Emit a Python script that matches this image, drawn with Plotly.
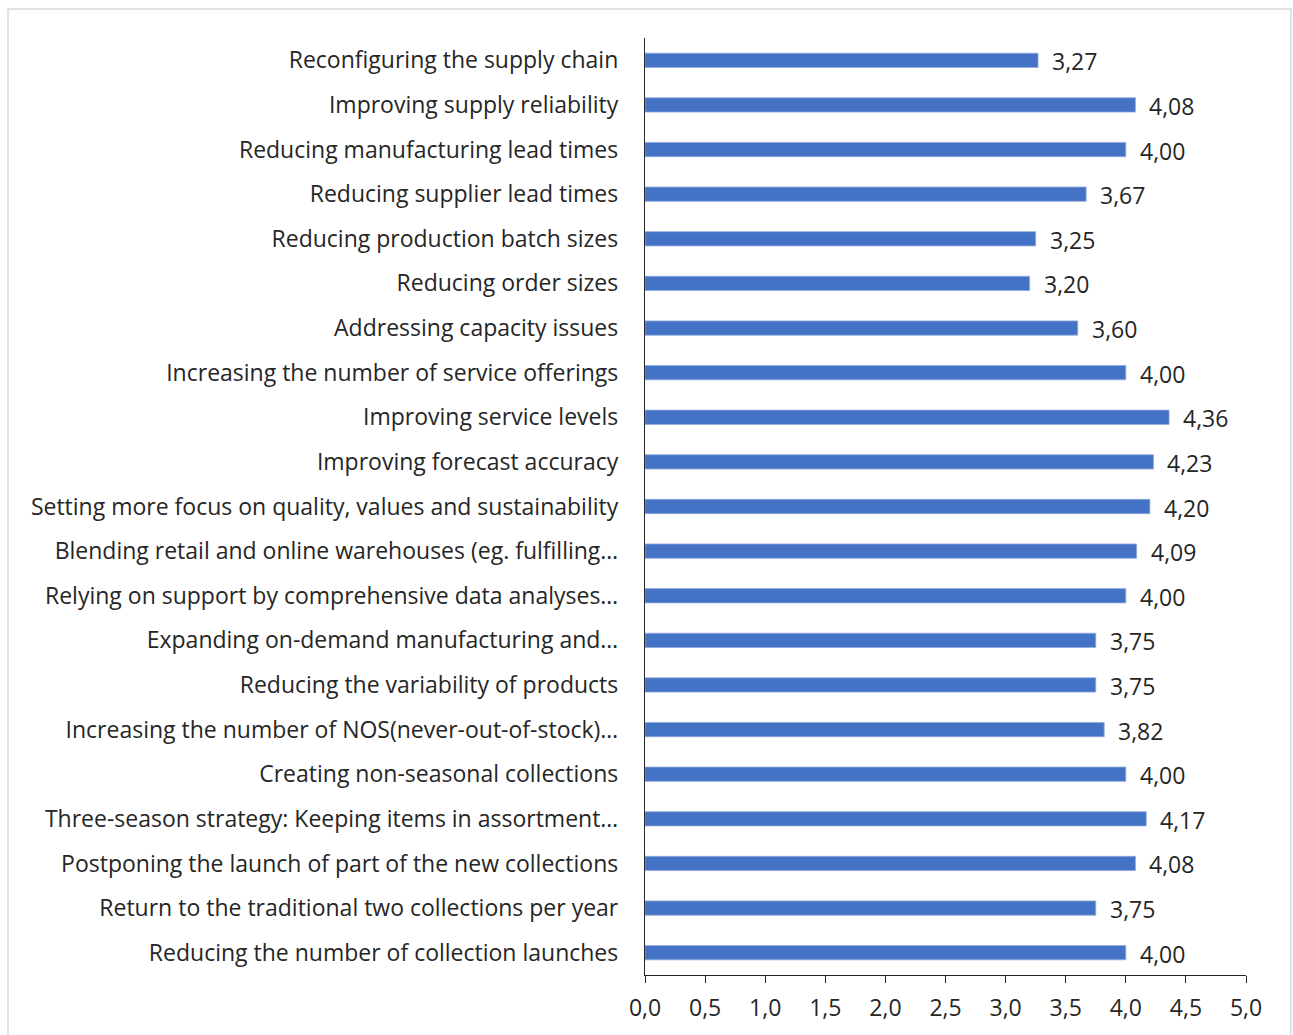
import plotly.graph_objects as go

# Measures, listed top to bottom as they appear on the chart
categories = [
    "Reconfiguring the supply chain",
    "Improving supply reliability",
    "Reducing manufacturing lead times",
    "Reducing supplier lead times",
    "Reducing production batch sizes",
    "Reducing order sizes",
    "Addressing capacity issues",
    "Increasing the number of service offerings",
    "Improving service levels",
    "Improving forecast accuracy",
    "Setting more focus on quality, values and sustainability",
    "Blending retail and online warehouses (eg. fulfilling…",
    "Relying on support by comprehensive data analyses…",
    "Expanding on-demand manufacturing and…",
    "Reducing the variability of products",
    "Increasing the number of NOS(never-out-of-stock)…",
    "Creating non-seasonal collections",
    "Three-season strategy: Keeping items in assortment…",
    "Postponing the launch of part of the new collections",
    "Return to the traditional two collections per year",
    "Reducing the number of collection launches",
]
scores = [3.27, 4.08, 4.00, 3.67, 3.25, 3.20, 3.60, 4.00, 4.36, 4.23, 4.20,
          4.09, 4.00, 3.75, 3.75, 3.82, 4.00, 4.17, 4.08, 3.75, 4.00]
tick_values = [0, 0.5, 1, 1.5, 2, 2.5, 3, 3.5, 4, 4.5, 5]

FONT = "Open Sans"
W, H = 1293, 1035
ML, MR, MT, MB = 645, 47, 38, 60
plot_w = W - ML - MR
plot_h = H - MT - MB

fig = go.Figure(go.Bar(
    x=scores,
    y=categories,
    orientation="h",
    width=0.32,
    marker=dict(color="#4472C4", line=dict(color="#8FAADC", width=0.8)),
    hoverinfo="x+y",
))

# value labels to the right of each bar
for cat, val in zip(categories, scores):
    fig.add_annotation(
        x=val, y=cat, text=f"{val:.2f}".replace(".", ","),
        showarrow=False, xanchor="left", yanchor="middle",
        xshift=12, yshift=-1,
        font=dict(family=FONT, size=23, color="#262626"),
    )

# thin outer frame around the whole chart
x0 = (8 - ML) / plot_w
x1 = (1291 - ML) / plot_w
y1 = (H - MB - 9) / plot_h
y0 = (H - MB - 1045) / plot_h
fig.add_shape(type="rect", xref="paper", yref="paper",
              x0=x0, x1=x1, y0=y0, y1=y1,
              line=dict(color="#D9D9D9", width=1.5), layer="below")

fig.update_layout(
    width=W, height=H,
    margin=dict(l=ML, r=MR, t=MT, b=MB),
    paper_bgcolor="white", plot_bgcolor="white",
    separators=",.",
    showlegend=False,
    font=dict(family=FONT, size=23, color="#262626"),
    xaxis=dict(
        range=[0, 5],
        tickvals=tick_values,
        tickformat=".1f",
        showgrid=False, zeroline=False,
        showline=True, linecolor="#262626", linewidth=1.3,
        ticks="outside", ticklen=7, tickwidth=1.3, tickcolor="#262626",
        tickfont=dict(family=FONT, size=23, color="#262626"),
        ticklabelstandoff=5,
        fixedrange=True,
    ),
    yaxis=dict(
        categoryorder="array", categoryarray=categories,
        autorange="reversed",
        showgrid=False, zeroline=False,
        showline=True, linecolor="#262626", linewidth=1.3,
        ticks="", ticklabelstandoff=21,
        tickfont=dict(family=FONT, size=23, color="#262626"),
        fixedrange=True,
    ),
)

fig.write_html("out.html")
